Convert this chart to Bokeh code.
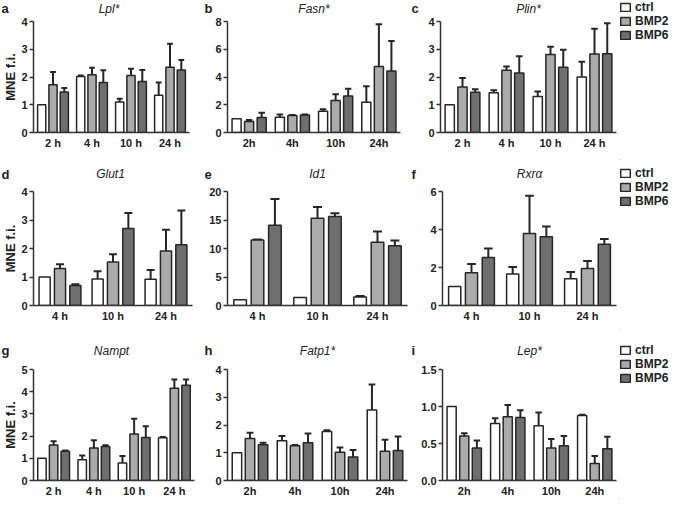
from bokeh.plotting import figure
from bokeh.models import (FactorRange, Range1d, ColumnDataSource, FixedTicker,
                          Legend, LegendItem, NumeralTickFormatter)
from bokeh.core.properties import value
from bokeh.transform import dodge
from bokeh.layouts import row, column
from bokeh.embed import file_html
from bokeh.resources import INLINE

# ---------------- data ----------------
groups = ["ctrl", "BMP2", "BMP6"]
cats4_sp = ["2 h", "4 h", "10 h", "24 h"]
cats4_ns = ["2h", "4h", "10h", "24h"]
cats3_sp = ["4 h", "10 h", "24 h"]

lpl_ctrl = [1.00, 2.02, 1.10, 1.34]
lpl_ctrl_err = [0.00, 0.03, 0.12, 0.46]
lpl_bmp2 = [1.72, 2.08, 2.05, 2.35]
lpl_bmp2_err = [0.46, 0.25, 0.25, 0.85]
lpl_bmp6 = [1.46, 1.80, 1.84, 2.25]
lpl_bmp6_err = [0.14, 0.44, 0.41, 0.36]
lpl_yticks = [0, 1, 2, 3, 4]

fasn_ctrl = [1.00, 1.10, 1.53, 2.18]
fasn_ctrl_err = [0.00, 0.20, 0.14, 1.15]
fasn_bmp2 = [0.79, 1.22, 2.30, 4.75]
fasn_bmp2_err = [0.11, 0.04, 0.45, 3.05]
fasn_bmp6 = [1.08, 1.26, 2.63, 4.44]
fasn_bmp6_err = [0.34, 0.04, 0.52, 2.16]
fasn_yticks = [0, 2, 4, 6, 8]

plin_ctrl = [1.00, 1.43, 1.30, 2.00]
plin_ctrl_err = [0.00, 0.09, 0.18, 0.55]
plin_bmp2 = [1.64, 2.24, 2.81, 2.83]
plin_bmp2_err = [0.32, 0.14, 0.28, 0.91]
plin_bmp6 = [1.45, 2.14, 2.35, 2.84]
plin_bmp6_err = [0.11, 0.61, 0.63, 1.10]
plin_yticks = [0, 1, 2, 3, 4]

glut1_ctrl = [1.00, 0.93, 0.92]
glut1_ctrl_err = [0.00, 0.27, 0.33]
glut1_bmp2 = [1.30, 1.53, 1.91]
glut1_bmp2_err = [0.15, 0.27, 0.75]
glut1_bmp6 = [0.70, 2.70, 2.13]
glut1_bmp6_err = [0.05, 0.55, 1.20]
glut1_yticks = [0, 1, 2, 3, 4]

id1_ctrl = [1.0, 1.4, 1.5]
id1_ctrl_err = [0.0, 0.0, 0.15]
id1_bmp2 = [11.5, 15.3, 11.1]
id1_bmp2_err = [0.1, 2.0, 1.9]
id1_bmp6 = [14.1, 15.6, 10.5]
id1_bmp6_err = [4.6, 0.6, 0.9]
id1_yticks = [0, 5, 10, 15, 20]

rxra_ctrl = [1.00, 1.66, 1.41]
rxra_ctrl_err = [0.00, 0.37, 0.35]
rxra_bmp2 = [1.72, 3.79, 1.95]
rxra_bmp2_err = [0.47, 1.99, 0.39]
rxra_bmp6 = [2.52, 3.62, 3.22]
rxra_bmp6_err = [0.48, 0.54, 0.28]
rxra_yticks = [0, 2, 4, 6]

nampt_ctrl = [1.00, 0.93, 0.79, 1.93]
nampt_ctrl_err = [0.00, 0.20, 0.31, 0.03]
nampt_bmp2 = [1.60, 1.46, 2.10, 4.15]
nampt_bmp2_err = [0.17, 0.35, 0.68, 0.40]
nampt_bmp6 = [1.32, 1.53, 1.94, 4.29]
nampt_bmp6_err = [0.03, 0.06, 0.50, 0.26]
nampt_yticks = [0, 1, 2, 3, 4, 5]

fatp1_ctrl = [1.00, 1.43, 1.77, 2.54]
fatp1_ctrl_err = [0.00, 0.17, 0.04, 0.92]
fatp1_bmp2 = [1.51, 1.25, 1.02, 1.05]
fatp1_bmp2_err = [0.21, 0.03, 0.17, 0.42]
fatp1_bmp6 = [1.29, 1.36, 0.85, 1.08]
fatp1_bmp6_err = [0.07, 0.33, 0.25, 0.51]
fatp1_yticks = [0, 1, 2, 3, 4]

lep_ctrl = [1.00, 0.77, 0.74, 0.88]
lep_ctrl_err = [0.00, 0.07, 0.18, 0.01]
lep_bmp2 = [0.60, 0.86, 0.44, 0.23]
lep_bmp2_err = [0.04, 0.16, 0.12, 0.10]
lep_bmp6 = [0.44, 0.85, 0.47, 0.43]
lep_bmp6_err = [0.10, 0.10, 0.13, 0.16]
lep_yticks = [0, 0.5, 1.0, 1.5]

# ---------------- style ----------------
FONT = "Liberation Sans"
EDGE = "#262626"
AX = "#333333"
TXT = "#222222"
FILLS = ["#ffffff", "#ababab", "#6f6f6f"]
OFFS = [-0.29, 0.0, 0.29]
BW = 0.21
CAP = 0.075


def blank(W, H, **kw):
    p = figure(width=W, height=H, x_range=Range1d(0, W), y_range=Range1d(0, H),
               output_backend="svg", toolbar_location=None,
               x_axis_location=None, y_axis_location=None, **kw)
    p.outline_line_color = None
    p.grid.visible = False
    p.background_fill_color = "white"
    p.border_fill_color = "white"
    return p


def header(W, H, letter, gene, gene_x, yc):
    h = blank(W, H, min_border_left=0, min_border_right=0, min_border_top=0, min_border_bottom=0)
    h.text(x=[1], y=[H - yc], text=[letter], text_font=value(FONT), text_font_style="bold",
           text_font_size="13px", text_color=TXT, text_align="left", text_baseline="middle")
    h.text(x=[gene_x], y=[H - yc], text=[gene], text_font=value(FONT), text_font_style="italic",
           text_font_size="12px", text_color=TXT, text_align="center", text_baseline="middle")
    return h


def panel(cats, series, yticks, W, H, bl, br, bt, bb, ylabel=None, fmt="0"):
    p = figure(width=W, height=H, x_range=FactorRange(*cats, range_padding=0),
               y_range=Range1d(0, yticks[-1]), output_backend="svg",
               toolbar_location=None, min_border_left=bl, min_border_right=br,
               min_border_top=bt, min_border_bottom=bb)
    p.outline_line_color = None
    p.grid.visible = False
    p.background_fill_color = "white"
    p.border_fill_color = "white"

    for i, (vals, errs) in enumerate(series):
        src = ColumnDataSource(dict(cat=cats, top=vals))
        ec = [c for c, e in zip(cats, errs) if e > 0]
        et = [v for v, e in zip(vals, errs) if e > 0]
        eh = [v + e for v, e in zip(vals, errs) if e > 0]
        esrc = ColumnDataSource(dict(cat=ec, top=et, hi=eh))
        p.segment(x0=dodge("cat", OFFS[i], range=p.x_range), y0="top",
                  x1=dodge("cat", OFFS[i], range=p.x_range), y1="hi",
                  source=esrc, line_color=EDGE, line_width=2)
        p.segment(x0=dodge("cat", OFFS[i] - CAP, range=p.x_range), y0="hi",
                  x1=dodge("cat", OFFS[i] + CAP, range=p.x_range), y1="hi",
                  source=esrc, line_color=EDGE, line_width=2)
        p.vbar(x=dodge("cat", OFFS[i], range=p.x_range), top="top", bottom=0,
               width=BW, source=src, fill_color=FILLS[i], line_color=EDGE,
               line_width=1.5)

    for ax in (p.xaxis, p.yaxis):
        ax.axis_line_color = AX
        ax.axis_line_width = 1.5
        ax.major_label_text_font = FONT
        ax.major_label_text_font_style = "bold"
        ax.major_label_text_font_size = "11px"
        ax.major_label_text_color = TXT
    p.xaxis.major_tick_line_color = None
    p.xaxis.major_tick_out = 0
    p.xaxis.major_tick_in = 0
    p.xaxis.major_label_standoff = 4
    p.yaxis.ticker = FixedTicker(ticks=yticks)
    p.yaxis.formatter = NumeralTickFormatter(format=fmt)
    p.yaxis.major_tick_out = 4
    p.yaxis.major_tick_in = 0
    p.yaxis.major_tick_line_color = AX
    p.yaxis.major_tick_line_width = 1.5
    p.yaxis.minor_tick_line_color = None
    p.yaxis.major_label_standoff = 2
    if ylabel:
        p.yaxis.axis_label = ylabel
        p.yaxis.axis_label_text_font = FONT
        p.yaxis.axis_label_text_font_style = "bold"
        p.yaxis.axis_label_text_font_size = "13px"
        p.yaxis.axis_label_text_color = TXT
        p.yaxis.axis_label_standoff = 0
    return p


def legend_fig(W, H, top):
    lf = blank(W, H, min_border_left=1, min_border_right=0, min_border_top=top,
               min_border_bottom=0)
    # legend proxies: one bar each, kept outside the visible range
    proxy = ColumnDataSource(dict(x=[-100], top=[-99], bottom=[-100]))
    rs = [lf.vbar(x="x", top="top", bottom="bottom", width=1, source=proxy,
                  fill_color=FILLS[i], line_color=EDGE, line_width=1.5) for i in range(3)]
    lg = Legend(items=[LegendItem(label=g, renderers=[r]) for g, r in zip(groups, rs)],
                location="top_left", orientation="vertical",
                glyph_width=12, glyph_height=10, label_height=12, spacing=-1,
                padding=0, margin=0, label_standoff=4, border_line_color=None,
                background_fill_alpha=0, label_text_font=FONT,
                label_text_font_style="bold", label_text_font_size="12px",
                label_text_color=TXT)
    lf.add_layout(lg)
    return lf


def fig_row(specs, H, hh, yc, pt, bb, legend_top, legend_w):
    heads, plots = [], []
    for letter, gene, cats, series, yticks, W, bl, br, ylabel, fmt in specs:
        fw = W - bl - br
        heads.append(header(W, hh, letter, gene, bl + fw / 2, yc))
        plots.append(panel(cats, series, yticks, W, H - hh, bl, br, pt, bb,
                           ylabel=ylabel, fmt=fmt))
    left = column(row(*heads), row(*plots))
    return row(left, legend_fig(legend_w, H, legend_top))


LW = 51
row1 = fig_row([
    ("a", "Lpl*", cats4_sp,
     [(lpl_ctrl, lpl_ctrl_err), (lpl_bmp2, lpl_bmp2_err), (lpl_bmp6, lpl_bmp6_err)],
     lpl_yticks, 203, 28, 14, "MNE f.i.", "0"),
    ("b", "Fasn*", cats4_ns,
     [(fasn_ctrl, fasn_ctrl_err), (fasn_bmp2, fasn_bmp2_err), (fasn_bmp6, fasn_bmp6_err)],
     fasn_yticks, 207, 24, 10, None, "0"),
    ("c", "Plin*", cats4_sp,
     [(plin_ctrl, plin_ctrl_err), (plin_bmp2, plin_bmp2_err), (plin_bmp6, plin_bmp6_err)],
     plin_yticks, 208, 30, 2, None, "0"),
], H=160, hh=16, yc=8, pt=5, bb=28, legend_top=0, legend_w=LW)

row2 = fig_row([
    ("d", "Glut1", cats3_sp,
     [(glut1_ctrl, glut1_ctrl_err), (glut1_bmp2, glut1_bmp2_err), (glut1_bmp6, glut1_bmp6_err)],
     glut1_yticks, 203, 28, 11, "MNE f.i.", "0"),
    ("e", "Id1", cats3_sp,
     [(id1_ctrl, id1_ctrl_err), (id1_bmp2, id1_bmp2_err), (id1_bmp6, id1_bmp6_err)],
     id1_yticks, 207, 24, 3, None, "0"),
    ("f", "Rxr\u03b1", cats3_sp,
     [(rxra_ctrl, rxra_ctrl_err), (rxra_bmp2, rxra_bmp2_err), (rxra_bmp6, rxra_bmp6_err)],
     rxra_yticks, 208, 32, 2, None, "0"),
], H=170, hh=24, yc=13.5, pt=7, bb=25, legend_top=6, legend_w=LW)

row3 = fig_row([
    ("g", "Nampt", cats4_sp,
     [(nampt_ctrl, nampt_ctrl_err), (nampt_bmp2, nampt_bmp2_err), (nampt_bmp6, nampt_bmp6_err)],
     nampt_yticks, 203, 28, 9, "MNE f.i.", "0"),
    ("h", "Fatp1*", cats4_ns,
     [(fatp1_ctrl, fatp1_ctrl_err), (fatp1_bmp2, fatp1_bmp2_err), (fatp1_bmp6, fatp1_bmp6_err)],
     fatp1_yticks, 207, 24, 3, None, "0"),
    ("i", "Lep*", cats4_ns,
     [(lep_ctrl, lep_ctrl_err), (lep_bmp2, lep_bmp2_err), (lep_bmp6, lep_bmp6_err)],
     lep_yticks, 208, 32, 2, None, "0.0"),
], H=169, hh=32, yc=20, pt=7, bb=17, legend_top=13, legend_w=LW)

layout = column(row1, row2, row3)

with open("out.html", "w") as f:
    f.write(file_html(layout, INLINE))
